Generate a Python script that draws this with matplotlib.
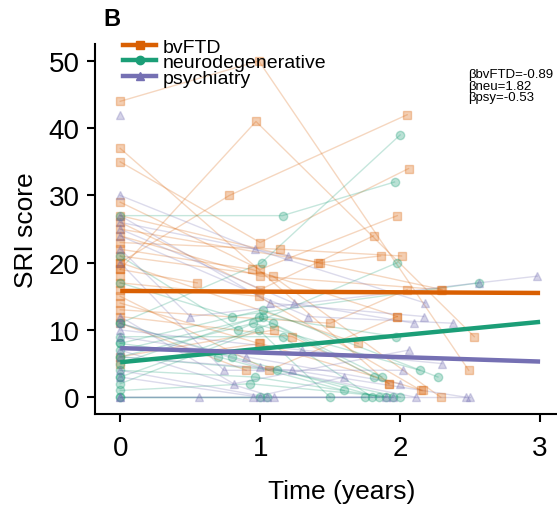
import numpy as np
import matplotlib
matplotlib.use("Agg")
import matplotlib.pyplot as plt
from matplotlib.lines import Line2D

plt.rcParams['font.family'] = ['Liberation Sans', 'DejaVu Sans']

# ---- data: one entry per subject (visit times in years, SRI score) ----
bvftd_t = [[0, 0.99, 2.49], [0, 0.97, 2.53], [0, 0.78, 2.05], [0, 1.92], [0, 1.0, 2.06],
           [0, 1.0, 1.98], [0, 1.0, 1.81], [0, 1.43, 1.86], [0, 1.14, 2.01], [0, 0.94, 1.98],
           [0, 1.09, 2.29], [0, 0.99, 2.15], [0, 0.99], [0, 1.23, 1.92], [0, 0.9],
           [0, 1.06, 1.98], [0, 1.0, 2.29], [0, 1.7], [0, 1.41, 2.3], [0, 1.0, 2.16],
           [0, 1.1], [0], [0], [0, 0.55], [0, 1.5, 2.05]]
bvftd_s = [[44, 50, 4], [19, 41, 9], [20, 30, 42], [37, 2], [35, 23, 34],
           [29, 19, 27], [26, 16, 24], [25, 20, 21], [23, 22, 21], [22, 19, 12],
           [21, 18, 0], [17, 15, 1], [14, 8], [12, 9, 2], [11, 4],
           [15, 4, 12], [24, 18, 16], [20, 8], [27, 20, 16], [5, 8, 1],
           [6, 10], [16], [18], [19, 17], [13, 11, 16]]

neu_t = [[0, 1.01, 2.0], [0, 1.16, 1.96], [0, 0.84, 1.98], [0, 0.8, 2.56], [0, 1.02, 2.27],
         [0, 0.95, 2.14], [0, 0.99, 1.81], [0, 1.09, 1.87], [0, 0.99, 1.5], [0, 1.16, 1.8],
         [0, 0.8, 1.85], [0, 0.96, 1.9], [0, 0.93, 1.95], [0, 1.12, 2.0], [0, 1.0],
         [0, 1.05, 1.75], [0, 1.02, 1.97], [0], [0, 0.7, 1.6]]
neu_s = [[11, 20, 39], [27, 27, 32], [21, 10, 20], [17, 12, 17], [8, 13, 3],
         [6, 11, 4], [5, 12, 3], [3, 11, 3], [2, 10, 0], [9, 9, 0],
         [11, 6, 0], [4, 3, 0], [1, 2, 0], [6, 4, 0], [0, 0],
         [0, 0, 0], [7, 12, 9], [3], [8, 6, 1]]

psy_t = [[0, 0.96, 2.18], [0], [0, 1.07, 2.17], [0, 1.24, 2.1], [0, 1.34, 2.38],
         [0, 0.5, 2.56, 2.98], [0, 0.74, 2.02], [0, 0.81, 2.06], [0, 1.0, 2.11], [0, 1.23, 2.47],
         [0, 0.56, 2.5], [0, 1.0, 1.9], [0, 1.05], [0, 0.95, 1.6], [0, 1.3, 2.3],
         [0, 1.2], [0, 0.9, 2.0], [0, 1.1, 1.95]]
psy_s = [[30, 22, 14], [42], [27, 14, 12], [25, 14, 11], [24, 12, 11],
         [22, 12, 17, 18], [20, 4, 4], [12, 2, 7], [11, 4.5, 0], [6, 4, 0],
         [0, 0, 0], [3, 0, 0], [4, 0], [0, 0, 3], [10, 7, 5],
         [26, 21], [9, 6, 2], [7, 0, 0]]

groups = ['bvFTD', 'neurodegenerative', 'psychiatry']
colors = ['#d95f02', '#1b9e77', '#7570b3']
markers = ['s', 'o', '^']
fit_x = [0, 3]
fit_y = [[15.8, 15.5], [5.2, 11.2], [7.3, 5.3]]
betas = ['\u03b2bvFTD=-0.89', '\u03b2neu=1.82', '\u03b2psy=-0.53']

fig = plt.figure(figsize=(5.57, 5.06), dpi=100)
ax = fig.add_axes([0.1706, 0.1798, 0.887, 0.731])

all_t = [bvftd_t, neu_t, psy_t]
all_s = [bvftd_s, neu_s, psy_s]
for g in range(3):
    for t, s in zip(all_t[g], all_s[g]):
        ax.plot(t, s, color=colors[g], lw=1.0, alpha=0.25, zorder=1)
        ax.plot(t, s, ls='none', marker=markers[g], ms=6, color=colors[g],
                alpha=0.3, zorder=2)

for g in range(3):
    ax.plot(fit_x, fit_y[g], color=colors[g], lw=3.2, zorder=5, solid_capstyle='butt')

ax.set_xlim(-0.18, 3.35)
ax.set_ylim(-2.5, 52.5)
ax.set_xticks([0, 1, 2, 3])
ax.set_yticks([0, 10, 20, 30, 40, 50])
ax.spines['top'].set_visible(False)
ax.spines['right'].set_visible(False)
for sp in ['left', 'bottom']:
    ax.spines[sp].set_linewidth(1.5)
ax.tick_params(labelsize=20, width=1.5, length=6, pad=5)
ax.tick_params(axis='x', pad=9)
ax.set_xlabel('Time (years)', fontsize=19, labelpad=13)
ax.set_ylabel('SRI score', fontsize=19, labelpad=8)

handles = [Line2D([], [], color=colors[g], lw=3.2, marker=markers[g], ms=6,
                  markerfacecolor=colors[g], markeredgecolor=colors[g]) for g in range(3)]
fig.legend(handles, groups, loc='upper left', bbox_to_anchor=(123 / 557, 1 - 39 / 506),
           frameon=False, fontsize=14, handlelength=1.7, handletextpad=0.35,
           labelspacing=-0.1, borderpad=0, borderaxespad=0)

fig.text(468 / 557, 1 - 69 / 506, '\n'.join(betas), fontsize=9.5, va='top', ha='left',
         linespacing=0.95)
fig.text(112 / 557, 1 - 20 / 506, 'B', fontsize=17, fontweight='bold', ha='center', va='center')

fig.savefig('out.png', dpi=100)
